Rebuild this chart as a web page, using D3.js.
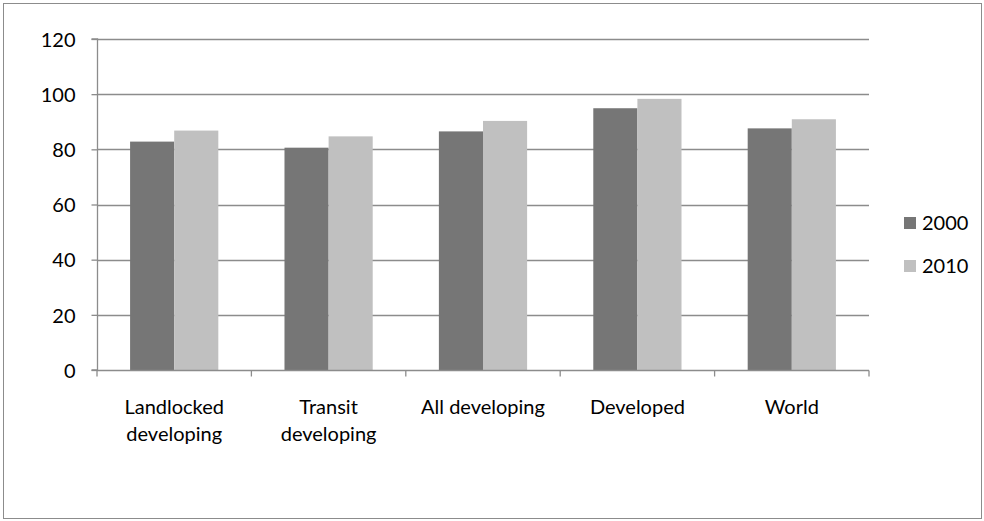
<!DOCTYPE html>
<html><head><meta charset="utf-8">
<script src="https://cdn.jsdelivr.net/npm/d3@7"></script>
<style>body{margin:0;background:#fff}svg{display:block}text{font-family:Lato,"Noto Sans",sans-serif;fill:#000}</style>
</head><body><svg id="c" width="984" height="521"></svg>
<script>
const categories = [["Landlocked","developing"],["Transit","developing"],["All developing"],["Developed"],["World"]];
const seriesNames = ["2000","2010"];
const values2000 = [82.8, 80.6, 86.5, 94.9, 87.6];
const values2010 = [86.8, 84.7, 90.3, 98.3, 90.9];
const yTicks = [0,20,40,60,80,100,120];
const colors = ["#767676","#c0c0c0"];

const svg = d3.select("#c");
const fs = 20;
svg.append("rect").attr("x",3.5).attr("y",3.5).attr("width",978).attr("height",515)
  .attr("fill","#fff").attr("stroke","#8c8c8c").attr("stroke-width",1);

const L=97, R=869, T=39, B=370;
const x = d3.scaleBand().domain(d3.range(categories.length)).range([L,R]).paddingInner(0.4286).paddingOuter(0.2143);
const y = d3.scaleLinear().domain([0,120]).range([B,T]);
const xs = d3.scaleBand().domain([0,1]).range([0,x.bandwidth()]);

// gridlines
svg.append("g").selectAll("line").data(yTicks.filter(d=>d>0)).join("line")
  .attr("x1",L).attr("x2",R).attr("y1",d=>Math.round(y(d))+0.5).attr("y2",d=>Math.round(y(d))+0.5)
  .attr("stroke","#8c8c8c").attr("stroke-width",1.3);

// bars
const data = [values2000, values2010];
data.forEach((vals,si)=>{
  svg.append("g").selectAll("rect").data(vals).join("rect")
    .attr("x",(d,i)=>x(i)+xs(si)).attr("width",xs.bandwidth())
    .attr("y",d=>y(d)).attr("height",d=>B-y(d)).attr("fill",colors[si]);
});

// y axis
const ya = d3.axisLeft(y).tickValues(yTicks).tickSize(6).tickPadding(16);
const gy = svg.append("g").attr("transform",`translate(${L+0.5},0)`).call(ya);
gy.select(".domain").attr("stroke","#8c8c8c").attr("stroke-width",1.3).attr("d",`M-6,${T}H0V${B}H-6`);
gy.selectAll(".tick line").attr("stroke","#8c8c8c").attr("stroke-width",1.3);
gy.selectAll(".tick text").attr("font-size",fs).attr("font-family","Lato").attr("fill","#000").attr("dy","0.36em");

// x axis
const xb = d3.scaleLinear().domain([0,categories.length]).range([L,R]);
const gx = svg.append("g").attr("transform",`translate(0,${B+0.5})`);
gx.append("line").attr("x1",L).attr("x2",R).attr("stroke","#8c8c8c").attr("stroke-width",1.3);
gx.selectAll("line.t").data(d3.range(categories.length+1)).join("line").attr("class","t")
  .attr("x1",d=>xb(d)).attr("x2",d=>xb(d)).attr("y1",0).attr("y2",6).attr("stroke","#8c8c8c").attr("stroke-width",1.3);
gx.selectAll("text").data(categories).join("text")
  .attr("text-anchor","middle").attr("font-size",fs)
  .attr("transform",(d,i)=>`translate(${x(i)+x.bandwidth()/2},43)`)
  .each(function(d){
    d3.select(this).selectAll("tspan").data(d).join("tspan")
      .attr("x",0).attr("dy",(t,j)=>j===0?0:27).text(t=>t);
  });

// legend
const lg = svg.append("g");
seriesNames.forEach((s,i)=>{
  const cy = 223 + i*43;
  lg.append("rect").attr("x",904).attr("y",cy-6).attr("width",12).attr("height",12).attr("fill",colors[i]);
  lg.append("text").attr("x",922).attr("y",cy).attr("dy","0.36em").attr("font-size",fs).text(s);
});
</script></body></html>
